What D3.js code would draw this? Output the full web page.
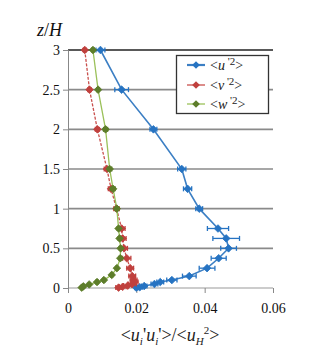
<!DOCTYPE html>
<html><head><meta charset="utf-8">
<script src="https://cdn.jsdelivr.net/npm/d3@7"></script>
<style>body{margin:0;background:#fff;}svg{display:block;} svg text{font-family:"Liberation Serif","Times New Roman",Times,"DejaVu Serif",serif;}</style>
</head><body>
<svg id="c" width="330" height="352"></svg>
<script>
const yTicks = [0, 0.5, 1, 1.5, 2, 2.5, 3];
const yTickLabels = ["0", "0.5", "1", "1.5", "2", "2.5", "3"];
const xTicks = [0, 0.02, 0.04, 0.06];
const xTickLabels = ["0", "0.02", "0.04", "0.06"];

const zU = [3, 2.5, 2, 1.5, 1.25, 1, 0.75, 0.625, 0.5, 0.375, 0.25, 0.15, 0.1, 0.075, 0.05, 0.025, 0.01, 0.004];
const uVals = [0.0095, 0.0157, 0.0250, 0.0333, 0.0350, 0.0384, 0.0439, 0.0463, 0.0470, 0.0441, 0.0407, 0.0355, 0.0304, 0.0270, 0.0253, 0.0223, 0.0210, 0.0200];
const uErr = [0.0013, 0.002, 0.001, 0.0012, 0.0012, 0.001, 0.0031, 0.0039, 0.0023, 0.0022, 0.0023, 0.0020, 0.0015, 0.0010, 0.0010, 0.0008, 0.0008, 0.0005];

const zV = [3, 2.5, 2, 1.5, 1.25, 1, 0.75, 0.625, 0.5, 0.375, 0.25, 0.15, 0.1, 0.075, 0.05, 0.03, 0.015, 0.005];
const vVals = [0.0049, 0.0063, 0.0086, 0.0114, 0.0126, 0.0142, 0.0157, 0.0160, 0.0164, 0.0172, 0.0182, 0.0188, 0.0192, 0.0195, 0.0188, 0.0175, 0.0160, 0.0148];
const vErr = [0.0004, 0.0005, 0.0006, 0.0008, 0.0008, 0.0008, 0.0010, 0.0010, 0.0010, 0.0012, 0.0010, 0.0010, 0.0010, 0.0010, 0.0012, 0.0012, 0.0010, 0.0008];

const zW = [3, 2.5, 2, 1.5, 1.25, 1, 0.75, 0.625, 0.5, 0.375, 0.25, 0.165, 0.1, 0.075, 0.045, 0.02, 0.005];
const wVals = [0.0073, 0.0088, 0.0110, 0.0122, 0.0132, 0.0143, 0.0148, 0.0151, 0.0154, 0.0153, 0.0143, 0.0128, 0.0105, 0.0085, 0.0062, 0.0045, 0.0040];
const wErr = [0.0004, 0.0004, 0.0006, 0.0006, 0.0006, 0.0005, 0.0004, 0.0004, 0.0004, 0.0004, 0.0003, 0.0003, 0.0003, 0.0003, 0.0003, 0.0003, 0.0003];

const seriesNames = ["u", "v", "w"];

const svg = d3.select("#c");
const x = d3.scaleLinear().domain([0, 0.06]).range([68, 273]);
const y = d3.scaleLinear().domain([0, 3]).range([288, 50]);
const serif = '"Liberation Serif","Times New Roman",Times,"DejaVu Serif",serif';

// gridlines
svg.append("g").selectAll("line").data(yTicks).join("line")
  .attr("x1", x(0)).attr("x2", x(0.06))
  .attr("y1", d => y(d)).attr("y2", d => y(d))
  .attr("stroke", d => d === 3 ? "#222" : (d === 0 ? "#999" : "#8a8a8a"))
  .attr("stroke-width", d => d === 0 ? 1 : 1.6);

// y axis
const yAxis = d3.axisLeft(y).tickValues(yTicks).tickSize(5).tickPadding(3)
  .tickFormat((d, i) => yTickLabels[i]);
const gy = svg.append("g").attr("transform", `translate(${x(0)},0)`).call(yAxis);
gy.attr("font-family", null);
gy.select(".domain").attr("stroke", "#888").attr("stroke-width", 1);
gy.selectAll(".tick line").attr("stroke", "#888");
gy.selectAll("text").style("font-family", serif).style("font-size", "14px").attr("fill", "#111");

// x axis
const xAxis = d3.axisBottom(x).tickValues(xTicks).tickSize(5).tickPadding(10)
  .tickFormat((d, i) => xTickLabels[i]);
const gx = svg.append("g").attr("transform", `translate(0,${y(0)})`).call(xAxis);
gx.attr("font-family", null);
gx.select(".domain").remove();
gx.selectAll(".tick line").attr("stroke", "#888");
gx.selectAll("text").style("font-family", serif).style("font-size", "14px").attr("fill", "#111");

const diamond = "M0,-3.8L3.8,0L0,3.8L-3.8,0Z";

function drawSeries(zs, vs, es, lineColor, markColor, dash, lw) {
  const g = svg.append("g");
  const pts = zs.map((z, i) => ({ z, v: vs[i], e: es[i] }));
  g.append("path").datum(pts)
    .attr("d", d3.line().x(d => x(d.v)).y(d => y(d.z)))
    .attr("fill", "none").attr("stroke", lineColor).attr("stroke-width", lw)
    .attr("stroke-dasharray", dash);
  const eb = g.selectAll("g.eb").data(pts).join("g");
  eb.append("line").attr("x1", d => x(d.v - d.e)).attr("x2", d => x(d.v + d.e))
    .attr("y1", d => y(d.z)).attr("y2", d => y(d.z)).attr("stroke", markColor).attr("stroke-width", 1.3);
  eb.append("line").attr("x1", d => x(d.v - d.e)).attr("x2", d => x(d.v - d.e))
    .attr("y1", d => y(d.z) - 2.5).attr("y2", d => y(d.z) + 2.5).attr("stroke", markColor).attr("stroke-width", 1.3);
  eb.append("line").attr("x1", d => x(d.v + d.e)).attr("x2", d => x(d.v + d.e))
    .attr("y1", d => y(d.z) - 2.5).attr("y2", d => y(d.z) + 2.5).attr("stroke", markColor).attr("stroke-width", 1.3);
  g.selectAll("path.m").data(pts).join("path").attr("class", "m")
    .attr("d", diamond).attr("transform", d => `translate(${x(d.v)},${y(d.z)})`)
    .attr("fill", markColor).attr("stroke", markColor).attr("stroke-width", 0.8);
}

const blueL = "#3c7fc4", blueM = "#2673c2";
const redL = "#c9504d", redM = "#c0403d";
const greenL = "#9bc15a", greenM = "#5d7d2a";

drawSeries(zU, uVals, uErr, blueL, blueM, null, 1.6);
drawSeries(zV, vVals, vErr, redL, redM, "3,1.5", 1.3);
drawSeries(zW, wVals, wErr, greenL, greenM, null, 1.3);

// legend
const lg = svg.append("g");
lg.append("rect").attr("x", 176.5).attr("y", 55.5).attr("width", 92).attr("height", 58)
  .attr("fill", "#fff").attr("stroke", "#333").attr("stroke-width", 1.3);
const legRows = [65, 85, 104];
const legCols = [[blueL, blueM, 2.2], [redL, redM, 1.3], [greenL, greenM, 1.3]];
seriesNames.forEach((n, i) => {
  const yy = legRows[i];
  lg.append("line").attr("x1", 187).attr("x2", 205).attr("y1", yy).attr("y2", yy)
    .attr("stroke", legCols[i][0]).attr("stroke-width", legCols[i][2]);
  lg.append("path").attr("d", diamond).attr("transform", `translate(196,${yy})`).attr("fill", legCols[i][1]);
  const t = lg.append("text").attr("x", 210).attr("y", yy + 5)
    .style("font-size", "14px").attr("fill", "#222");
  t.append("tspan").text("<");
  t.append("tspan").attr("font-style", "italic").text(n);
  t.append("tspan").style("font-size", "11px").attr("dy", -5).text(" '2");
  t.append("tspan").attr("dy", 5).text(">");
});

// y title
const yt = svg.append("text").attr("x", 37).attr("y", 36)
  .style("font-size", "18px").attr("font-style", "italic").attr("fill", "#111");
yt.append("tspan").text("z");
yt.append("tspan").attr("font-style", "normal").text("/");
yt.append("tspan").text("H");

// x title
const xt = svg.append("text").attr("x", 170).attr("y", 341).attr("text-anchor", "middle")
  .style("font-size", "18px").attr("fill", "#222");
xt.append("tspan").text("<");
xt.append("tspan").attr("font-style", "italic").text("u");
xt.append("tspan").attr("font-style", "italic").style("font-size", "11px").attr("dy", 4).text("i");
xt.append("tspan").attr("dy", -4).text("'");
xt.append("tspan").attr("font-style", "italic").text("u");
xt.append("tspan").attr("font-style", "italic").style("font-size", "11px").attr("dy", 4).text("i");
xt.append("tspan").attr("dy", -4).text("'>/<");
xt.append("tspan").attr("font-style", "italic").text("u");
xt.append("tspan").attr("font-style", "italic").style("font-size", "11px").attr("dy", 4).text("H");
xt.append("tspan").style("font-size", "11px").attr("dy", -11).text("2");
xt.append("tspan").attr("dy", 7).text(">");
</script>
</body></html>
